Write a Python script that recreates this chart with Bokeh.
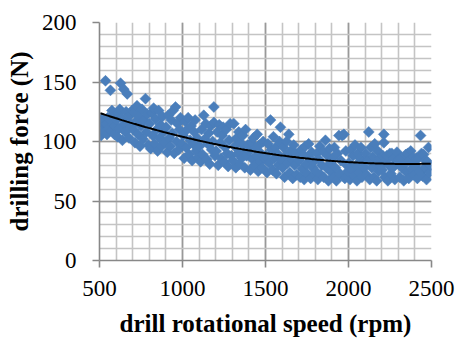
import numpy as np
from bokeh.plotting import figure
from bokeh.models import Range1d, SingleIntervalTicker, ColumnDataSource
from bokeh.embed import file_html
from bokeh.resources import INLINE

# drill rotational speed (rpm)
rpm = [
    505, 510, 515, 520, 525, 530, 536, 540, 545, 550, 555, 560, 566, 570, 575, 580, 585, 590, 595,
    603, 608, 612, 618, 622, 627, 633, 638, 646, 650, 655, 660, 667, 672, 678, 684, 690, 696,
    703, 708, 714, 720, 726, 732, 738, 744, 750, 756, 762, 768, 777, 782, 788, 794,
    802, 808, 814, 820, 826, 832, 838, 844, 850, 856, 862, 868, 874, 880, 886, 893,
    902, 908, 914, 920, 926, 932, 938, 944, 950, 958, 964, 970, 976, 982, 988, 995,
    1004, 1010, 1016, 1022, 1028, 1034, 1040, 1046, 1052, 1058, 1064, 1070, 1076, 1082, 1088, 1094,
    1103, 1109, 1115, 1121, 1128, 1134, 1140, 1146, 1152, 1158, 1164, 1170, 1176, 1182, 1189, 1189, 1195,
    1203, 1209, 1215, 1221, 1227, 1233, 1239, 1245, 1251, 1257, 1263, 1269, 1275, 1281, 1287, 1294,
    1303, 1309, 1315, 1321, 1327, 1333, 1339, 1345, 1351, 1357, 1363, 1369, 1375, 1380, 1386, 1393,
    1403, 1409, 1415, 1421, 1427, 1433, 1439, 1445, 1450, 1456, 1462, 1468, 1474, 1480, 1486, 1493,
    1503, 1509, 1515, 1521, 1530, 1536, 1542, 1548, 1554, 1560, 1566, 1572, 1578, 1584, 1590, 1596,
    1603, 1609, 1615, 1621, 1627, 1633, 1640, 1646, 1652, 1658, 1664, 1670, 1676, 1682, 1688, 1695,
    1703, 1709, 1715, 1721, 1727, 1733, 1739, 1745, 1751, 1760, 1766, 1772, 1778, 1784, 1790, 1796,
    1803, 1809, 1815, 1821, 1827, 1833, 1839, 1845, 1851, 1861, 1867, 1873, 1879, 1885, 1891, 1897,
    1903, 1909, 1915, 1921, 1927, 1933, 1942, 1948, 1954, 1962, 1972, 1978, 1984, 1990, 1996,
    2003, 2009, 2015, 2021, 2027, 2033, 2039, 2045, 2051, 2057, 2063, 2069, 2075, 2081, 2087, 2094,
    2103, 2109, 2115, 2122, 2128, 2134, 2140, 2146, 2152, 2158, 2164, 2170, 2176, 2182, 2188, 2195,
    2203, 2208, 2213, 2213, 2219, 2225, 2231, 2237, 2243, 2249, 2255, 2261, 2267, 2273, 2279, 2285, 2292,
    2303, 2309, 2315, 2321, 2327, 2333, 2339, 2345, 2351, 2357, 2363, 2369, 2375, 2381, 2387, 2394,
    2403, 2409, 2415, 2421, 2427, 2434, 2440, 2446, 2452, 2458, 2464, 2470, 2476, 2482, 2488, 2495,
]

# drilling force (N)
force = [
    112, 105, 119, 116, 108, 118, 151, 115, 106, 120, 111, 119, 143, 109, 126, 114, 121, 106, 113,
    118, 104, 124, 111, 127, 149, 120, 101, 144, 115, 108, 125, 140, 117, 103, 122, 112, 126,
    110, 125, 99, 117, 130, 106, 121, 96, 113, 127, 102, 118, 136, 108, 123, 97,
    115, 94, 124, 105, 128, 98, 119, 110, 92, 126, 103, 114, 96, 121, 108, 99,
    112, 91, 122, 103, 96, 118, 107, 126, 90, 129, 100, 115, 93, 110, 120, 98,
    105, 86, 117, 95, 110, 120, 89, 101, 113, 84, 98, 108, 118, 92, 103, 87,
    96, 83, 110, 89, 122, 102, 115, 85, 98, 107, 81, 113, 93, 100, 129, 116, 88,
    92, 108, 80, 114, 99, 86, 105, 112, 83, 95, 110, 90, 79, 101, 115, 88,
    84, 115, 96, 78, 103, 90, 108, 81, 99, 86, 105, 93, 78, 110, 88, 97,
    92, 76, 99, 85, 103, 80, 94, 88, 106, 75, 97, 83, 90, 78, 100, 86,
    88, 74, 98, 82, 118, 93, 76, 104, 86, 95, 73, 90, 80, 100, 112, 84,
    78, 95, 70, 88, 100, 82, 106, 74, 92, 85, 69, 97, 80, 90, 72, 87,
    84, 70, 93, 77, 89, 68, 96, 81, 73, 98, 86, 69, 91, 78, 83, 72,
    75, 90, 68, 85, 96, 72, 80, 92, 70, 101, 78, 88, 67, 94, 82, 74,
    86, 70, 95, 78, 67, 90, 105, 73, 84, 105, 106, 69, 92, 80, 75,
    82, 68, 93, 76, 88, 71, 97, 80, 67, 90, 74, 86, 95, 70, 83, 78,
    90, 72, 84, 108, 68, 95, 78, 87, 70, 98, 81, 67, 92, 75, 86, 79,
    76, 88, 106, 99, 70, 84, 88, 67, 80, 90, 73, 90, 78, 86, 68, 82, 91,
    85, 70, 86, 78, 80, 67, 81, 89, 74, 90, 69, 84, 92, 77, 87, 72,
    80, 86, 69, 86, 75, 105, 90, 71, 89, 78, 84, 68, 83, 95, 74, 80,
]

x_label = "drill rotational speed (rpm)"
y_label = "drilling force (N)"

FONT = "Liberation Serif"
BLUE = "#4A7EBB"

p = figure(width=458, height=339, output_backend="svg", toolbar_location=None,
           x_range=Range1d(500, 2500), y_range=Range1d(0, 200),
           min_border_left=99, min_border_right=27, min_border_top=22,
           min_border_bottom=79)
p.outline_line_color = None
p.background_fill_color = "white"
p.border_fill_color = "white"

p.xaxis.ticker = SingleIntervalTicker(interval=500, num_minor_ticks=5)
p.yaxis.ticker = SingleIntervalTicker(interval=50, num_minor_ticks=5)

for g in (p.xgrid, p.ygrid):
    g.grid_line_color = "#999999"
    g.grid_line_width = 1.6
    g.minor_grid_line_color = "#C4C4C4"
    g.minor_grid_line_width = 1.6

for ax in (p.xaxis, p.yaxis):
    ax.axis_line_color = "#888888"
    ax.axis_line_width = 1.6
    ax.major_tick_line_color = "#888888"
    ax.major_tick_line_width = 1.6
    ax.major_tick_in = 0
    ax.major_tick_out = 7
    ax.minor_tick_line_color = None
    ax.major_label_text_font = FONT
    ax.major_label_text_font_size = "23px"
    ax.major_label_text_color = "black"
    ax.axis_label_text_font = FONT
    ax.axis_label_text_font_size = "25px"
    ax.axis_label_text_font_style = "bold"
    ax.axis_label_text_color = "black"

p.xaxis.axis_label = x_label
p.yaxis.axis_label = y_label
p.xaxis.major_label_standoff = 13
p.yaxis.major_label_standoff = 16
p.xaxis.axis_label_standoff = 11
p.yaxis.axis_label_standoff = 6

src = ColumnDataSource(data=dict(x=rpm, y=force))
p.scatter("x", "y", source=src, marker="square", size=7.8, angle=np.pi / 4,
          fill_color=BLUE, line_color=BLUE, line_width=0.5)

# polynomial (order 2) trend line fitted to the data
coef = np.polyfit(np.array(rpm, float), np.array(force, float), 2)
tx = np.linspace(min(rpm), max(rpm), 200)
ty = np.polyval(coef, tx)
p.line(tx, ty, line_color="black", line_width=2)

open("out.html", "w").write(file_html(p, INLINE))
